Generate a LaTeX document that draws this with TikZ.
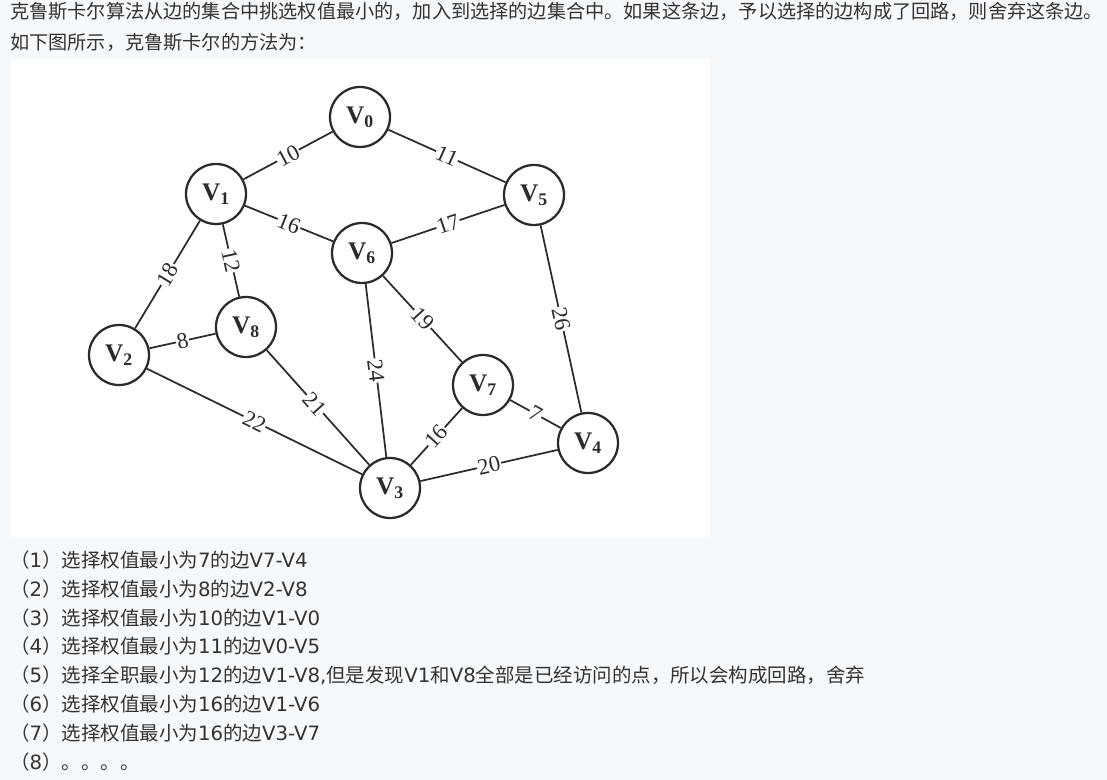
\documentclass[tikz,border=0pt]{standalone}
\usepackage{fontspec}
\setmainfont{DejaVu Sans}
\newfontfamily\cjk{Noto Sans CJK SC}
\newfontfamily\vserif{Liberation Serif}

\definecolor{ink}{HTML}{333333}
\definecolor{page}{HTML}{F5F9FC}
\definecolor{graphink}{HTML}{2B2B2B}
\newcommand{\zh}[1]{{\cjk\fontsize{14.6pt}{18pt}\selectfont #1}}

\begin{document}
\begin{tikzpicture}
          [x=0.75pt, y=-0.75pt,
          vertex/.style={circle, draw=graphink, line width=1.7pt, fill=white, minimum size=45pt, inner sep=0pt, text=graphink, font=\vserif\bfseries\fontsize{19pt}{19pt}\selectfont},
          weight/.style={fill=white, inner sep=0.6pt, sloped, text=graphink, font=\vserif\fontsize{17pt}{17pt}\selectfont},
          line/.style={draw=graphink, line width=1.3pt},
          intro/.style={anchor=base west, inner sep=0pt, text=ink, font=\cjk\fontsize{14.38pt}{17pt}\selectfont},
          stepline/.style={anchor=base west, inner sep=0pt, text=ink, font=\fontsize{14.8pt}{17pt}\selectfont}]

          \useasboundingbox (0,0) rectangle (1107,780);
          \fill [page] (0,0) rectangle (1107,780);
          \fill [white] (11,59) rectangle (710,538);

          \node [intro] (intro1) at (10,19) {克鲁斯卡尔算法从边的集合中挑选权值最小的，加入到选择的边集合中。如果这条边，予以选择的边构成了回路，则舍弃这条边。};
          \node [intro] (intro2) at (10,50) {如下图所示，克鲁斯卡尔的方法为：};

          \node [vertex] (v0) at (360,117) {V\textsubscript{0}};
          \node [vertex] (v1) at (216,194) {V\textsubscript{1}};
          \node [vertex] (v5) at (534,195) {V\textsubscript{5}};
          \node [vertex] (v6) at (362,253) {V\textsubscript{6}};
          \node [vertex] (v8) at (246,327) {V\textsubscript{8}};
          \node [vertex] (v2) at (119,355) {V\textsubscript{2}};
          \node [vertex] (v7) at (483,385) {V\textsubscript{7}};
          \node [vertex] (v4) at (588,443) {V\textsubscript{4}};
          \node [vertex] (v3) at (390,488) {V\textsubscript{3}};
          \begin{scope}[every path/.style=line]
              \path (v1) -- node [weight] {10} (v0);
              \path (v0) -- node [weight] {11} (v5);
              \path (v1) -- node [weight] {16} (v6);
              \path (v6) -- node [weight] {17} (v5);
              \path (v1) -- node [weight] {18} (v2);
              \path (v1) -- node [weight] {12} (v8);
              \path (v2) -- node [weight] {8} (v8);
              \path (v8) -- node [weight, pos=0.47] {21} (v3);
              \path (v2) -- node [weight] {22} (v3);
              \path (v6) -- node [weight] {24} (v3);
              \path (v6) -- node [weight] {19} (v7);
              \path (v5) -- node [weight] {26} (v4);
              \path (v7) -- node [weight] {7} (v4);
              \path (v3) -- node [weight] {16} (v7);
              \path (v3) -- node [weight] {20} (v4);
          \end{scope}

          \node [stepline] (step1) at (10,567) {\zh{（}1\zh{）选择权值最小为}7\zh{的边}V7-V4};
          \node [stepline] (step2) at (10,596) {\zh{（}2\zh{）选择权值最小为}8\zh{的边}V2-V8};
          \node [stepline] (step3) at (10,625) {\zh{（}3\zh{）选择权值最小为}10\zh{的边}V1-V0};
          \node [stepline] (step4) at (10,653) {\zh{（}4\zh{）选择权值最小为}11\zh{的边}V0-V5};
          \node [stepline] (step5) at (10,682) {\zh{（}5\zh{）选择全职最小为}12\zh{的边}V1-V8,\zh{但是发现}V1\zh{和}V8\zh{全部是已经访问的点，所以会构成回路，舍弃}};
          \node [stepline] (step6) at (10,711) {\zh{（}6\zh{）选择权值最小为}16\zh{的边}V1-V6};
          \node [stepline] (step7) at (10,740) {\zh{（}7\zh{）选择权值最小为}16\zh{的边}V3-V7};
          \node [stepline] (step8) at (10,769) {\zh{（}8\zh{）。。。。}};
  \end{tikzpicture}
\end{document}
